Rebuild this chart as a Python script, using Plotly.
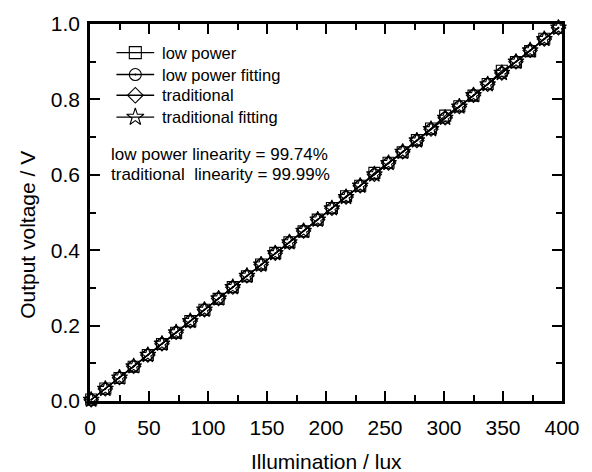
import plotly.graph_objects as go

illum = [1, 13, 25, 37, 49, 61, 73, 85, 97, 109, 121, 133, 145, 157, 169, 181, 193,
         205, 217, 229, 241, 253, 265, 277, 289, 301, 313, 325, 337, 349, 361, 373, 385, 397]

low_power = [0.004, 0.033, 0.061, 0.091, 0.122, 0.151, 0.181, 0.212, 0.242, 0.271, 0.302,
             0.331, 0.362, 0.393, 0.421, 0.450, 0.481, 0.512, 0.543, 0.571, 0.605, 0.632,
             0.660, 0.692, 0.723, 0.757, 0.782, 0.810, 0.841, 0.876, 0.899, 0.928, 0.961, 0.990]
low_power_fit = [0.003, 0.032, 0.062, 0.092, 0.122, 0.152, 0.182, 0.212, 0.242, 0.272, 0.302,
                 0.332, 0.362, 0.392, 0.421, 0.451, 0.481, 0.511, 0.541, 0.571, 0.601, 0.631,
                 0.661, 0.691, 0.721, 0.751, 0.781, 0.811, 0.840, 0.870, 0.900, 0.930, 0.960, 0.990]
traditional = [0.003, 0.032, 0.062, 0.092, 0.122, 0.152, 0.182, 0.212, 0.242, 0.272, 0.302,
               0.332, 0.362, 0.392, 0.421, 0.451, 0.481, 0.511, 0.541, 0.571, 0.601, 0.631,
               0.661, 0.691, 0.721, 0.751, 0.781, 0.811, 0.840, 0.870, 0.900, 0.930, 0.960, 0.990]
traditional_fit = [0.003, 0.032, 0.062, 0.092, 0.122, 0.152, 0.182, 0.212, 0.242, 0.272, 0.302,
                   0.332, 0.362, 0.392, 0.421, 0.451, 0.481, 0.511, 0.541, 0.571, 0.601, 0.631,
                   0.661, 0.691, 0.721, 0.751, 0.781, 0.811, 0.840, 0.870, 0.900, 0.930, 0.960, 0.990]

series_names = ["low power", "low power fitting", "traditional", "traditional fitting"]
series_values = [low_power, low_power_fit, traditional, traditional_fit]
series_symbols = ["square-open", "circle-open-dot", "diamond-open", "star-open"]
series_sizes = [11, 11, 11, 12]

FONT = "Liberation Sans, Arial, sans-serif"

fig = go.Figure()
for name, ys, sym, sz in zip(series_names, series_values, series_symbols, series_sizes):
    fig.add_trace(go.Scatter(
        x=illum, y=ys, name=name, mode="lines+markers", showlegend=False,
        line=dict(color="black", width=1.2),
        marker=dict(symbol=sym, size=sz, color="black", line=dict(color="black", width=1.1)),
        cliponaxis=False,
    ))

# hand-built legend on an overlay axis (paper-like 0..1 units)
leg_x0, leg_x1, leg_text_x = 0.056, 0.136, 0.149
leg_rows = [0.924, 0.866, 0.811, 0.753]
annotations = []
for name, sym, sz, ly in zip(series_names, series_symbols, series_sizes, leg_rows):
    fig.add_trace(go.Scatter(
        x=[leg_x0, leg_x1], y=[ly, ly], mode="lines", showlegend=False, hoverinfo="skip",
        line=dict(color="black", width=1.3), xaxis="x2", yaxis="y2"))
    fig.add_trace(go.Scatter(
        x=[(leg_x0 + leg_x1) / 2], y=[ly], mode="markers", showlegend=False, hoverinfo="skip",
        marker=dict(symbol=sym, size=sz + 1, color="black", line=dict(color="black", width=1.1)),
        xaxis="x2", yaxis="y2"))
    annotations.append(dict(text=name, xref="x2", yref="y2", x=leg_text_x, y=ly,
                            xanchor="left", yanchor="middle", showarrow=False,
                            font=dict(family=FONT, size=16.5, color="black")))

axis_common = dict(
    showline=True, linecolor="black", linewidth=2.5, mirror="allticks",
    ticks="inside", ticklen=10, tickwidth=2, tickcolor="black",
    showgrid=False, zeroline=False,
    tickfont=dict(family=FONT, size=21, color="black"),
)

fig.update_layout(
    xaxis=dict(range=[0, 400], tick0=0, dtick=50,
               minor=dict(ticks="inside", ticklen=6, tickwidth=2, tickcolor="black", dtick=25, showgrid=False),
               ticklabelstandoff=6, **axis_common),
    yaxis=dict(range=[0, 1.0], tick0=0, dtick=0.2, tickformat=".1f",
               minor=dict(ticks="inside", ticklen=6, tickwidth=2, tickcolor="black", dtick=0.1, showgrid=False),
               ticklabelstandoff=3, **axis_common),
    xaxis2=dict(range=[0, 1], overlaying="x", visible=False, anchor="y2"),
    yaxis2=dict(range=[0, 1], overlaying="y", visible=False, anchor="x2"),
)

annotations += [
    dict(text="Illumination / lux", xref="paper", yref="paper", x=0.5, y=-0.16,
         xanchor="center", yanchor="middle", showarrow=False,
         font=dict(family=FONT, size=21, color="black")),
    dict(text="Output voltage / V", xref="paper", yref="paper", x=-0.134, y=0.44,
         xanchor="center", yanchor="middle", showarrow=False, textangle=-90,
         font=dict(family=FONT, size=21, color="black")),
    dict(text="low power linearity = 99.74%", xref="paper", yref="paper", x=0.041, y=0.654,
         xanchor="left", yanchor="middle", showarrow=False,
         font=dict(family=FONT, size=17, color="black")),
    dict(text="traditional\u00a0 linearity = 99.99%", xref="paper", yref="paper", x=0.041, y=0.601,
         xanchor="left", yanchor="middle", showarrow=False,
         font=dict(family=FONT, size=17, color="black")),
]

fig.update_layout(
    width=592, height=472,
    margin=dict(l=90, r=18, t=20, b=71),
    paper_bgcolor="white", plot_bgcolor="white",
    font=dict(family=FONT, color="black"),
    showlegend=False,
    annotations=annotations,
)

fig.write_html("out.html")
